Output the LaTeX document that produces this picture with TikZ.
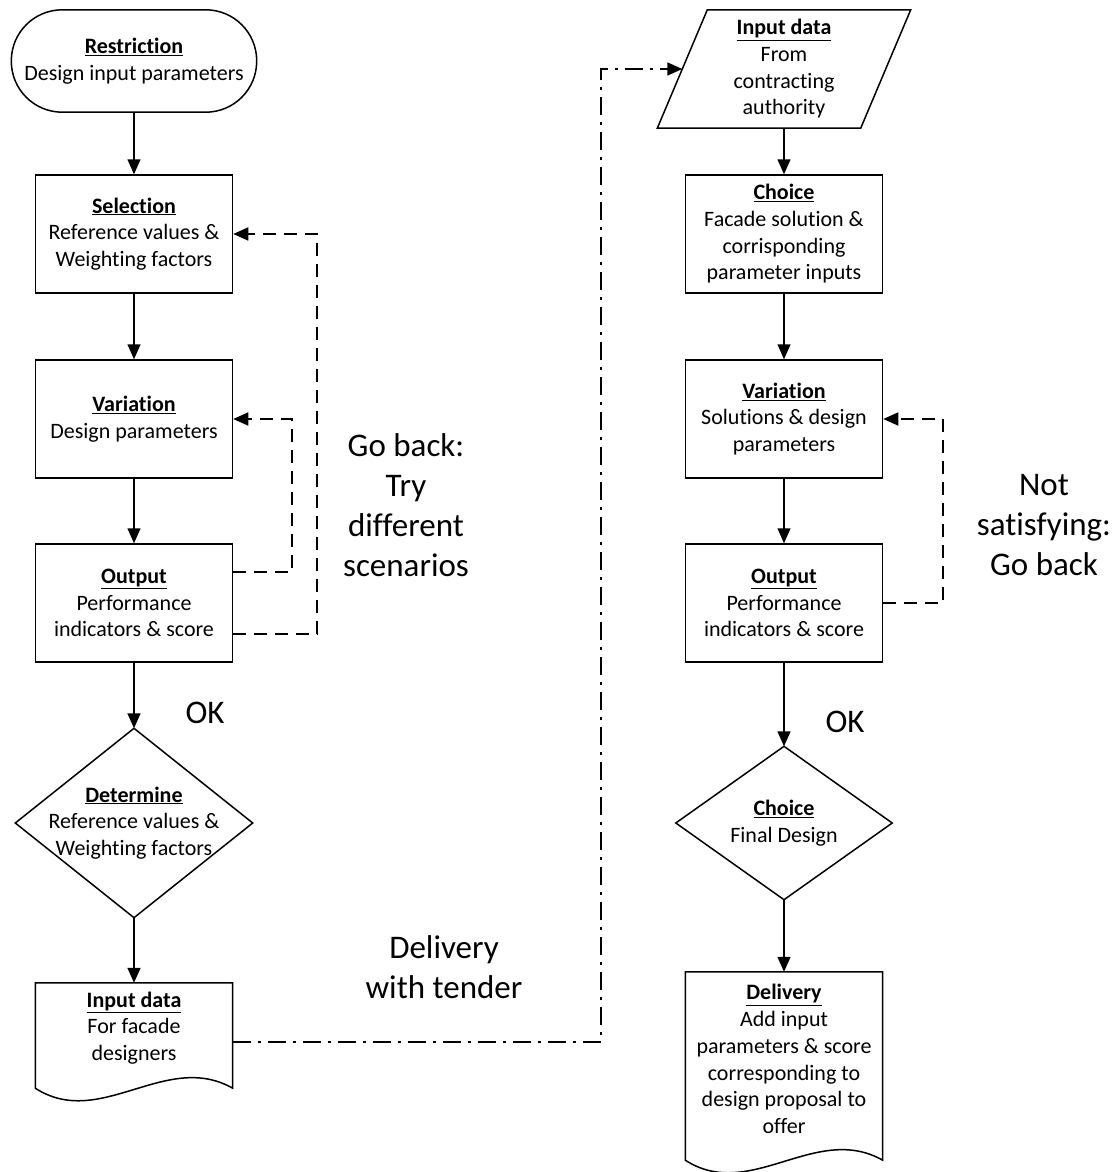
\documentclass[tikz,border=0pt]{standalone}
\usepackage{fontspec}
\setmainfont{Carlito}[Ligatures=CommonOff]
\usetikzlibrary{shapes,arrows.meta,positioning,calc}

\newcommand{\hd}[1]{\textbf{\underline{#1}}}

\begin{document}
\begin{tikzpicture}[x=1pt, y=-1pt,
    base/.style={align=center, font=\fontsize{22}{26.7}\selectfont},
    outline/.style={line width=1.5pt},
    box/.style={base, outline, rectangle, draw, minimum width=197pt, minimum height=118pt},
    shell/.style={base, rectangle, inner sep=0pt},
    big/.style={align=center, font=\fontsize{33}{40}\selectfont},
    arrow/.style={-{Triangle[length=15pt,width=13pt]}, line width=1.5pt},
    back/.style={arrow, line width=1.7pt, dash pattern=on 13pt off 8pt},
    tender/.style={arrow, line width=1.7pt, dash pattern=on 18pt off 7pt on 3pt off 7pt}
]

\useasboundingbox (0,0) rectangle (1118,1172);

% Left column
\node[shell, minimum width=245pt, minimum height=102pt] (restr) at (134,61) {\hd{Restriction}\\Design input parameters};
\draw[outline, rounded corners=51pt] (restr.south west) rectangle (restr.north east);
\node[box] (sel) at (134,234) {\hd{Selection}\\Reference values \&\\Weighting factors};
\node[box] (var1) at (134,419) {\hd{Variation}\\Design parameters};
\node[box] (out1) at (134,603) {\hd{Output}\\Performance\\indicators \& score};
\node[shell, minimum width=237pt, minimum height=189pt] (det) at (134,823) {\hd{Determine}\\Reference values \&\\Weighting factors};
\draw[outline] (det.north) -- (det.east) -- (det.south) -- (det.west) -- cycle;
\node[shell, minimum width=197pt, minimum height=90pt] (in1) at (134,1028) {\hd{Input data}\\For facade\\designers};
\draw[outline] ($(in1.south west)+(0,15)$) -- (in1.north west) -- (in1.north east) -- ($(in1.south east)+(0,15)$)
    .. controls +(-67,-38) and +(65,42) .. ($(in1.south west)+(0,15)$) -- cycle;

% Arrows
\draw[arrow] (restr) -- (sel);
\draw[arrow] (sel) -- (var1);
\draw[arrow] (var1) -- (out1);
\draw[arrow] (out1) -- (det.north);
\draw[arrow] (det.south) -- (in1.north);
\node[big] (ok1) at (205,713) {OK};

% Go back loops
\draw[back] ([yshift=31pt]out1.east) -- ++(59,0) |- (var1.east);
\draw[back] ([yshift=-31pt]out1.east) -- ++(84,0) |- (sel.east);
\node[big] (goback) at (406,505) {Go back:\\Try\\different\\scenarios};

% Right column
\node[shell, minimum width=203pt, minimum height=118pt] (indata) at (784,69) {\hd{Input data}\\From\\contracting\\authority};
\draw[outline] ([xshift=25pt]indata.north west) -- ([xshift=25pt]indata.north east)
    -- ([xshift=-25pt]indata.south east) -- ([xshift=-25pt]indata.south west) -- cycle;
\node[box] (choice1) at (784,234) {\hd{Choice}\\Facade solution \&\\corrisponding\\parameter inputs};
\node[box] (var2) at (784,419) {\hd{Variation}\\Solutions \& design\\parameters};
\node[box] (out2) at (784,603) {\hd{Output}\\Performance\\indicators \& score};
\node[shell, minimum width=216pt, minimum height=153pt] (choice2) at (784,823) {\hd{Choice}\\Final Design};
\draw[outline] (choice2.north) -- (choice2.east) -- (choice2.south) -- (choice2.west) -- cycle;
\node[shell, minimum width=197pt, minimum height=174pt] (deliv) at (784,1059) {\hd{Delivery}\\Add input\\parameters \& score\\corresponding to\\design proposal to\\offer};
\draw[outline] ($(deliv.south west)+(0,14)$) -- (deliv.north west) -- (deliv.north east) -- ($(deliv.south east)+(0,14)$)
    .. controls +(-67,-38) and +(65,42) .. ($(deliv.south west)+(0,14)$) -- cycle;

\draw[arrow] (indata.south) -- (choice1);
\draw[arrow] (choice1) -- (var2);
\draw[arrow] (var2) -- (out2);
\draw[arrow] (out2) -- (choice2.north);
\draw[arrow] (choice2.south) -- (deliv.north);
\node[big] (ok2) at (845,722) {OK};

\draw[back] (out2.east) -- ++(60,0) |- (var2.east);
\node[big] (notsat) at (1044,525) {Not\\satisfying:\\Go back};

% Tender hand-over
\coordinate (bend) at (601,69);
\draw[tender] ([yshift=-14pt]in1.east) -| (bend) -- (indata.west);
\node[big] (tenderlbl) at (444,967) {Delivery\\with tender};

\end{tikzpicture}
\end{document}
